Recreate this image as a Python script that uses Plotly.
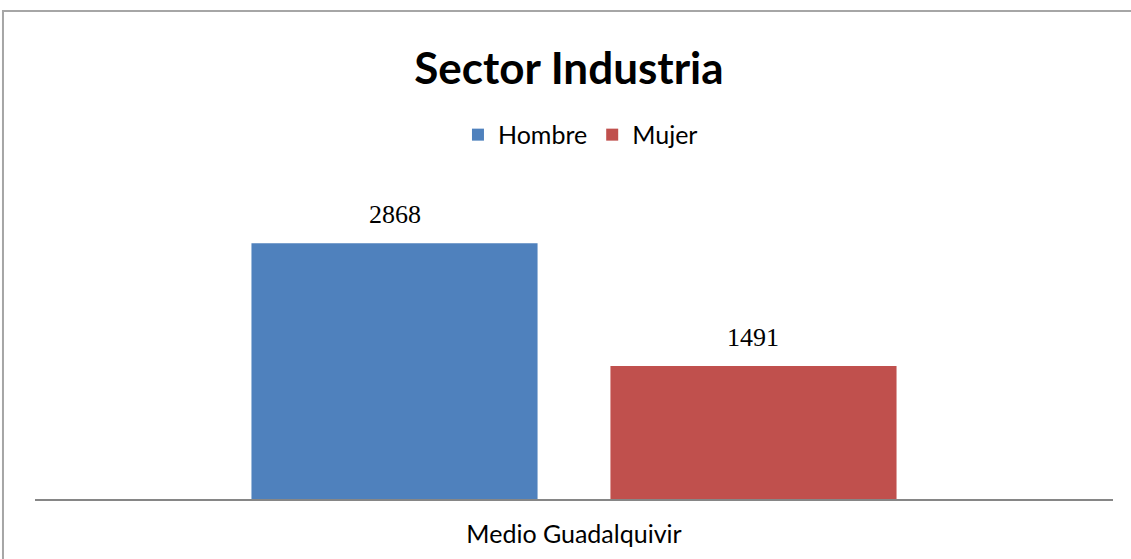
import plotly.graph_objects as go

categories = ["Medio Guadalquivir"]
series_names = ["Hombre", "Mujer"]
hombre = [2868]
mujer = [1491]
colors = ["#4F81BD", "#C0504D"]

fig = go.Figure()
for i, (name, vals, col) in enumerate(zip(series_names, [hombre, mujer], colors)):
    fig.add_trace(go.Bar(
        x=categories, y=vals, name=name, marker_color=col,
        marker_line_width=0, offsetgroup=str(i), cliponaxis=False,
    ))

bargap = 0.334
fig.update_layout(
    width=1131, height=559,
    paper_bgcolor="white", plot_bgcolor="white",
    margin=dict(l=35, r=18, t=187, b=60),
    barmode="group", bargap=bargap, bargroupgap=0.203,
    title=dict(text="<b>Sector Industria</b>", x=0.503, xanchor="center",
               y=0.878, yanchor="middle",
               font=dict(family="Lato", size=44, color="#000000")),
    legend=dict(orientation="h", x=0.506, xanchor="center", y=1.167, yanchor="middle",
                font=dict(family="Lato", size=25, color="#000000"),
                itemwidth=30, tracegroupgap=0),
    shapes=[dict(type="rect", xref="paper", yref="paper",
                 x0=-0.0297, x1=1.03, y0=-0.3, y1=1.564,
                 line=dict(color="#A6A6A6", width=2), layer="below")],
)

# data labels as annotations, raised slightly above each bar
group_w = 1 - bargap
slot = group_w / 2
annotations = []
for i, vals in enumerate([hombre, mujer]):
    for j, v in enumerate(vals):
        annotations.append(dict(
            x=j - group_w / 2 + slot * (i + 0.5), y=v, xref="x", yref="y",
            text=str(v), showarrow=False, yanchor="bottom", yshift=12,
            font=dict(family="Liberation Serif", size=26, color="#000000")))
fig.update_layout(annotations=annotations)

fig.update_xaxes(showline=True, linecolor="#868686", linewidth=2,
                 tickfont=dict(family="Lato", size=25, color="#000000"),
                 ticks="", showgrid=False, ticklabelstandoff=12)
fig.update_yaxes(range=[0, 3500], visible=False, showgrid=False)

fig.write_html("out.html", config={"displayModeBar": False},
               post_script="document.body.style.margin='0';document.body.style.overflow='hidden';")
